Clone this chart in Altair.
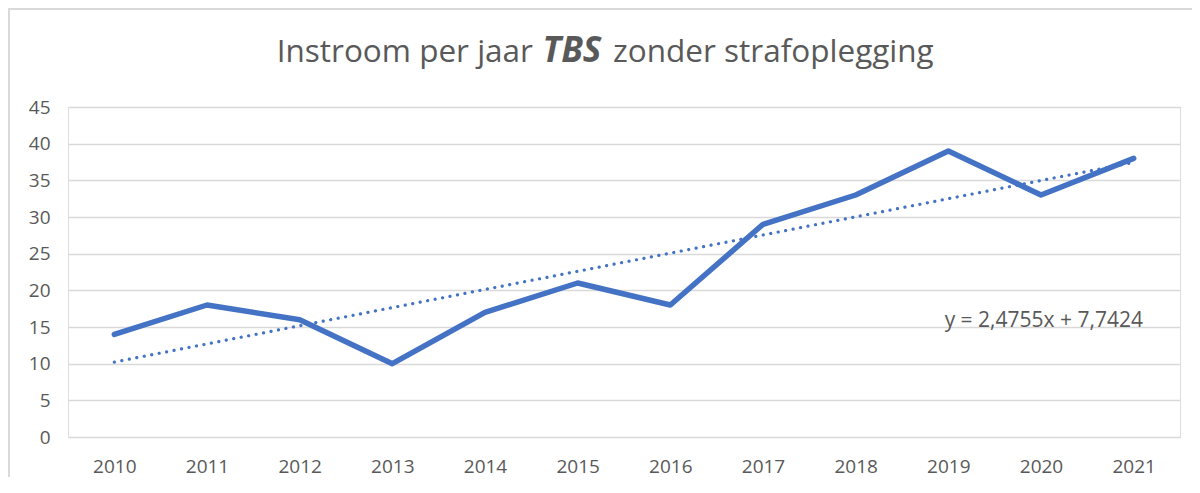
import altair as alt
import pandas as pd

years = [2010, 2011, 2012, 2013, 2014, 2015, 2016, 2017, 2018, 2019, 2020, 2021]
values = [14, 18, 16, 10, 17, 21, 18, 29, 33, 39, 33, 38]
y_ticks = [0, 5, 10, 15, 20, 25, 30, 35, 40, 45]
title_parts = ["Instroom per jaar", "TBS", "zonder strafoplegging"]
equation = "y = 2,4755x + 7,7424"

df = pd.DataFrame({"year": years, "value": values})

BLUE = "#4472C4"
GRAY = "#595959"
FONT = "Open Sans"
W, H = 1112, 330

x_enc = alt.X("year:Q", scale=alt.Scale(domain=[2009.5, 2021.5], nice=False, zero=False),
              axis=alt.Axis(values=years, format="d", title=None, grid=False, domain=False,
                            ticks=False, labelPadding=20, labelFontSize=19, labelColor=GRAY,
                            labelFont=FONT, labelOverlap=False))
y_enc = alt.Y("value:Q", scale=alt.Scale(domain=[0, 45], nice=False),
              axis=alt.Axis(values=y_ticks, tickCount=10, title=None, domain=False, ticks=False,
                            labelPadding=18, labelFontSize=19, labelColor=GRAY, labelFont=FONT,
                            labelOverlap=False,
                            grid=True, gridColor="#d9d9d9", gridWidth=1.5))

base = alt.Chart(df)

line = base.mark_line(color=BLUE, strokeWidth=5.5, strokeCap="round", strokeJoin="round").encode(
    x=x_enc, y=y_enc)

trend = base.transform_regression("year", "value").mark_line(
    color=BLUE, strokeWidth=3.2, strokeDash=[0.1, 7.5], strokeCap="round").encode(
    x=x_enc, y=y_enc)

eq = alt.Chart(pd.DataFrame({"year": [2018.96], "value": [15.8], "t": [equation]})).mark_text(
    align="left", baseline="middle", fontSize=21, font=FONT, color=GRAY).encode(
    x=x_enc, y=y_enc, text="t:N")

title_df = pd.DataFrame({"t": [title_parts[0]]})
t1 = alt.Chart(title_df).mark_text(align="right", baseline="alphabetic", fontSize=31.5, font=FONT,
                                   color=GRAY).encode(
    x=alt.value(465), y=alt.value(-45), text=alt.value(title_parts[0]))
t2 = alt.Chart(title_df).mark_text(align="center", baseline="alphabetic", fontSize=35, font=FONT,
                                   fontWeight="bold", fontStyle="italic", color=GRAY).encode(
    x=alt.value(504), y=alt.value(-45), text=alt.value(title_parts[1]))
t3 = alt.Chart(title_df).mark_text(align="left", baseline="alphabetic", fontSize=31.5, font=FONT,
                                   color=GRAY).encode(
    x=alt.value(545), y=alt.value(-45), text=alt.value(title_parts[2]))

border_top = alt.Chart(title_df).mark_rule(color="#d9d9d9", strokeWidth=2).encode(
    x=alt.value(-60), x2=alt.value(W + 20), y=alt.value(-98))
border_left = alt.Chart(title_df).mark_rule(color="#d9d9d9", strokeWidth=2).encode(
    x=alt.value(-59), y=alt.value(-98), y2=alt.value(H + 60))

chart = alt.layer(line, trend, eq, t1, t2, t3, border_top, border_left).properties(
    width=W, height=H,
    autosize=alt.AutoSizeParams(type="none"),
    padding={"left": 60, "top": 99, "right": 12, "bottom": 40},
).configure_view(strokeWidth=0, stroke="transparent").configure(background="white")

chart.save("out.html", embed_options={"renderer": "svg", "actions": False})
